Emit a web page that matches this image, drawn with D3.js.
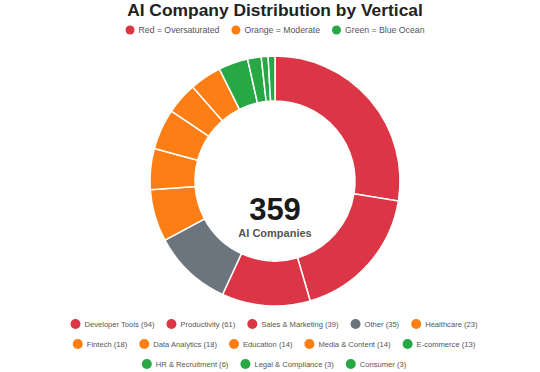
<!DOCTYPE html>
<html><head><meta charset="utf-8">
<script src="https://cdn.jsdelivr.net/npm/d3@7"></script>
<style>body{margin:0;background:#fff;} svg{display:block;font-family:"Liberation Sans",Arial,sans-serif;}</style>
</head><body><svg id="c" width="540" height="372"></svg>
<script>
const categories = ["Developer Tools","Productivity","Sales & Marketing","Other","Healthcare","Fintech","Data Analytics","Education","Media & Content","E-commerce","HR & Recruitment","Legal & Compliance","Consumer"];
const values = [94,61,39,35,23,18,18,14,14,13,6,3,3];
const tiers = ["red","red","red","gray","orange","orange","orange","orange","orange","green","green","green","green"];
const tierLegend = ["Red = Oversaturated","Orange = Moderate","Green = Blue Ocean"];
const tierLegendKeys = ["red","orange","green"];
const totalLabel = "359";
const totalSub = "AI Companies";
const title = "AI Company Distribution by Vertical";

const colors = {red:"#dc3545",orange:"#fd7e14",green:"#28a745",gray:"#6c757d"};
const svg = d3.select("#c");
const cx = 275, cy = 181, R = 125, r = 80;

svg.append("text").attr("x",275).attr("y",16).attr("text-anchor","middle")
  .attr("font-size",17.4).attr("font-weight","bold").attr("fill","#222").text(title);

const data = categories.map((c,i)=>({name:c,value:values[i],tier:tiers[i]}));
const pie = d3.pie().sort(null).value(d=>d.value);
const arc = d3.arc().innerRadius(r).outerRadius(R);
const g = svg.append("g").attr("transform",`translate(${cx},${cy})`);
g.selectAll("path").data(pie(data)).join("path")
  .attr("d",arc).attr("fill",d=>colors[d.data.tier]).attr("stroke","#fff").attr("stroke-width",1.5);

g.append("text").attr("text-anchor","middle").attr("y",39).attr("font-size",31).attr("font-weight","bold").attr("fill","#1a1a1a").text(totalLabel);
g.append("text").attr("text-anchor","middle").attr("y",56).attr("font-size",11).attr("font-weight","bold").attr("fill","#555").text(totalSub);

function legendRow(items, y, fs, dotR, gapDot, gapItem, centerX){
  const grp = svg.append("g");
  const widths = items.map(it=>{
    const t = grp.append("text").attr("font-size",fs).text(it.label);
    const w = t.node().getComputedTextLength(); t.remove(); return w;
  });
  const total = d3.sum(widths) + items.length*(2*dotR+gapDot) + (items.length-1)*gapItem;
  let x = centerX - total/2;
  items.forEach((it,i)=>{
    grp.append("circle").attr("cx",x+dotR).attr("cy",y).attr("r",dotR).attr("fill",it.color);
    grp.append("text").attr("x",x+2*dotR+gapDot).attr("y",y).attr("dy","0.35em").attr("font-size",fs).attr("fill","#555").text(it.label);
    x += 2*dotR+gapDot+widths[i]+gapItem;
  });
}
legendRow(tierLegend.map((l,i)=>({label:l,color:colors[tierLegendKeys[i]]})), 30, 8.7, 4.5, 4, 12, 275);

const rows = [[0,5],[5,10],[10,13]];
const rowY = [324,344,364];
rows.forEach((rg,k)=>{
  const items = data.slice(rg[0],rg[1]).map(d=>({label:`${d.name} (${d.value})`,color:colors[d.tier]}));
  legendRow(items,rowY[k],7.6,5,4,12,274);
});
</script></body></html>
